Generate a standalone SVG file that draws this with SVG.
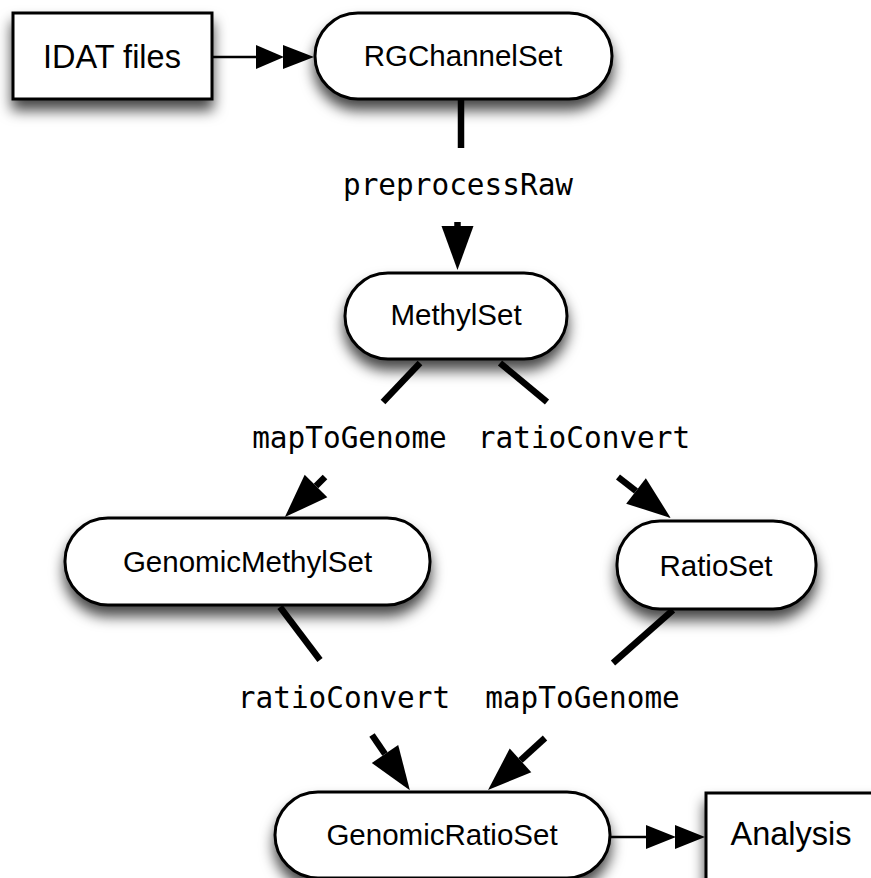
<svg xmlns="http://www.w3.org/2000/svg" width="871" height="878" viewBox="0 0 871 878">
  <style>
    .node { fill: #ffffff; stroke: #000000; stroke-width: 3; filter: url(#shadow); }
    .lbl { font-family: "Liberation Sans", Arial, sans-serif; font-size: 29.5px; fill: #000; text-anchor: middle; }
    .lblbig { font-family: "Liberation Sans", Arial, sans-serif; font-size: 32.5px; fill: #000; text-anchor: middle; }
    .elbl { font-family: "DejaVu Sans Mono", "Liberation Mono", monospace; font-size: 29.4px; fill: #000; text-anchor: middle; }
    .thick { stroke: #000; stroke-width: 6.5; fill: none; }
    .thin { stroke: #000; stroke-width: 2.7; fill: none; }
    .head { fill: #000; stroke: none; }
  </style>
  <defs>
    <filter id="shadow" x="-20%" y="-30%" width="140%" height="180%">
      <feDropShadow dx="0" dy="10" stdDeviation="7" flood-color="#000" flood-opacity="0.72"/>
    </filter>
    <marker id="bighead" markerUnits="userSpaceOnUse" markerWidth="46" markerHeight="34" refX="0" refY="16" orient="auto" overflow="visible">
      <path d="M0,0 L44,16 L0,32 Z" class="head"/>
    </marker>
  </defs>

  <g id="connectors">
    <!-- IDAT files -> RGChannelSet -->
    <line class="thin" x1="212" y1="57" x2="257" y2="57"/>
    <polygon class="head" points="256,45 284,57 256,69"/>
    <polygon class="head" points="283,45 314,57 283,69"/>

    <!-- RGChannelSet -> MethylSet (preprocessRaw) -->
    <line class="thick" x1="461" y1="99" x2="461" y2="148"/>
    <line class="thick" x1="457.5" y1="222" x2="457.5" y2="226" marker-end="url(#bighead)"/>
    <text class="elbl" x="458" y="195">preprocessRaw</text>

    <!-- MethylSet -> GenomicMethylSet (mapToGenome) -->
    <line class="thick" x1="420" y1="363" x2="383" y2="402"/>
    <line class="thick" x1="325" y1="477" x2="316" y2="486" marker-end="url(#bighead)"/>
    <text class="elbl" x="349.5" y="448">mapToGenome</text>

    <!-- MethylSet -> RatioSet (ratioConvert) -->
    <line class="thick" x1="500" y1="363" x2="547" y2="402"/>
    <line class="thick" x1="618" y1="477" x2="636" y2="491" marker-end="url(#bighead)"/>
    <text class="elbl" x="584" y="448">ratioConvert</text>

    <!-- GenomicMethylSet -> GenomicRatioSet (ratioConvert) -->
    <line class="thick" x1="280" y1="607" x2="320" y2="660"/>
    <line class="thick" x1="372" y1="735" x2="385" y2="754" marker-end="url(#bighead)"/>
    <text class="elbl" x="344" y="708">ratioConvert</text>

    <!-- RatioSet -> GenomicRatioSet (mapToGenome) -->
    <line class="thick" x1="673" y1="610" x2="613" y2="663"/>
    <line class="thick" x1="545" y1="738" x2="520.5" y2="760.4" marker-end="url(#bighead)"/>
    <text class="elbl" x="582.5" y="708">mapToGenome</text>

    <!-- GenomicRatioSet -> Analysis -->
    <line class="thin" x1="610" y1="837" x2="647" y2="837"/>
    <polygon class="head" points="646,825 676,837 646,849"/>
    <polygon class="head" points="675,825 705,837 675,849"/>
  </g>

  <g id="idat-files">
    <rect class="node" x="13" y="13" width="199" height="86"/>
    <text class="lblbig" x="112" y="68">IDAT files</text>
  </g>

  <g id="rgchannelset">
    <rect class="node" x="315" y="13" width="297" height="86" rx="43" ry="43"/>
    <text class="lbl" x="463" y="66">RGChannelSet</text>
  </g>

  <g id="methylset">
    <rect class="node" x="345" y="273" width="222" height="86" rx="43" ry="43"/>
    <text class="lbl" x="456" y="325">MethylSet</text>
  </g>

  <g id="genomicmethylset">
    <rect class="node" x="65" y="518" width="365" height="87" rx="43" ry="43"/>
    <text class="lbl" x="247.5" y="572">GenomicMethylSet</text>
  </g>

  <g id="ratioset">
    <rect class="node" x="617" y="521" width="199" height="88" rx="43" ry="43"/>
    <text class="lbl" x="716" y="576">RatioSet</text>
  </g>

  <g id="genomicratioset">
    <rect class="node" x="275" y="792" width="335" height="86" rx="43" ry="43"/>
    <text class="lbl" x="442" y="845">GenomicRatioSet</text>
  </g>

  <g id="analysis">
    <rect class="node" x="706" y="793" width="200" height="90"/>
    <text class="lblbig" x="791" y="845">Analysis</text>
  </g>
</svg>
